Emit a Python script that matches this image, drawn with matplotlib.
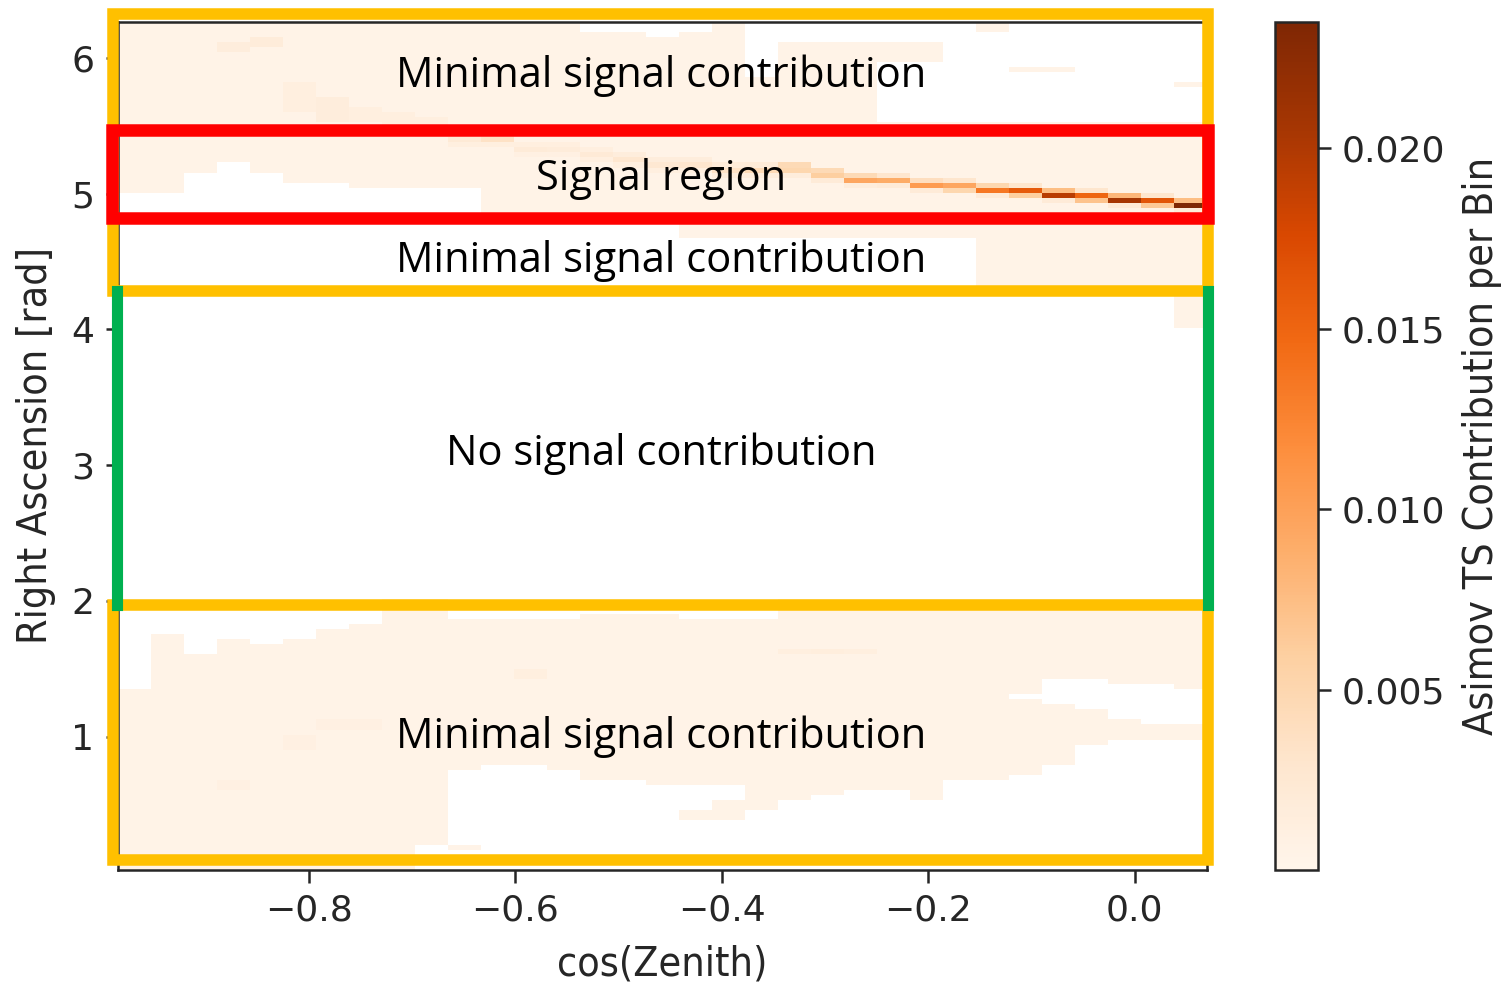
import numpy as np
import matplotlib
matplotlib.use("Agg")
import matplotlib.pyplot as plt
from matplotlib.patches import Rectangle
from matplotlib.lines import Line2D
from matplotlib.ticker import FormatStrFormatter

# binning of the sky map: 33 cos(zenith) columns, 169 right-ascension rows
N_COS = 33
N_RA = 169
cos_edges = np.linspace(-0.985, 0.07, N_COS + 1)
ra_edges = np.linspace(0.0185, 6.265, N_RA + 1)

FAINT = 0.0004

# lower band (RA 0..2): top / bottom of the populated region per column
low_top = [1.34, 1.76, 1.62, 1.72, 1.68, 1.72, 1.79, 1.83, 2.00, 2.00, 1.87,
           1.87, 1.87, 1.87, 1.90, 1.90, 1.90, 1.86, 1.86, 1.86, 2.00, 2.00,
           2.00, 2.00, 2.00, 2.00, 2.00, 2.00, 2.00, 2.00, 2.00, 2.00, 2.00]
low_bottom = [0.0, 0.0, 0.0, 0.0, 0.0, 0.0, 0.0, 0.0, 0.0, 0.20, 0.74,
              0.78, 0.78, 0.74, 0.68, 0.68, 0.64, 0.64, 0.64, 0.55, 0.55, 0.57,
              0.60, 0.60, 0.55, 0.68, 0.68, 0.71, 0.79, 0.96, 0.99, 0.99, 0.99]
# empty holes inside the lower band
gap_cols = [27, 28, 29, 30, 31, 32]
gap_lo = [1.27, 1.24, 1.195, 1.13, 1.10, 1.10]
gap_hi = [1.33, 1.42, 1.42, 1.40, 1.38, 1.36]

# upper zone above RA 5.5 (None = empty column)
top_lo = [5.50] * 19 + [5.50, 5.53, 5.53, 5.53, 5.98, 5.98, None, 6.20, 5.88,
                        5.88, None, None, None, 5.77]
top_hi = [6.27] * 14 + [6.20, 6.20, 6.15, 6.20, 6.25, 5.85, 6.12, 6.12, 6.12,
                        6.12, 6.12, None, 6.25, 5.94, 5.94, None, None, None, 5.82]

# region from RA 5.5 downwards (signal band and below)
mid_lo = [5.01, 5.01, 5.16, 5.22, 5.16, 5.08, 5.08, 5.03, 5.03, 5.03, 5.03,
          4.83, 4.83, 4.83, 4.83, 4.83, 4.83, 4.66, 4.66, 4.66, 4.66, 4.66,
          4.66, 4.66, 4.66, 4.66, 4.29, 4.29, 4.29, 4.29, 4.29, 4.29, 4.00]
MID_HI = 5.53

# slightly stronger patches: column, ra low, ra high, value
patch_col = [3, 4, 5, 6, 7, 8, 9, 5, 6, 7, 3, 12, 20, 21, 22, 17, 18, 19, 10]
patch_lo = [6.05, 6.09, 5.59, 5.53, 5.53, 5.45, 5.42, 0.90, 1.05, 1.05, 0.60,
            1.44, 1.59, 1.59, 1.59, 0.40, 0.40, 0.45, 0.17]
patch_hi = [6.12, 6.16, 5.81, 5.71, 5.65, 5.60, 5.55, 1.02, 1.14, 1.14, 0.68,
            1.51, 1.65, 1.65, 1.65, 0.45, 0.53, 0.55, 0.22]
patch_val = [0.0015, 0.0018, 0.0012, 0.0015, 0.0012, 0.0012, 0.0012, 0.0010,
             0.0010, 0.0010, 0.0010, 0.0012, 0.0012, 0.0014, 0.0012, 0.0004,
             0.0004, 0.0004, 0.0004]

# source track: column, RA of peak bin, peak value, bin above, bin below
sig_cols = list(range(10, 33))
sig_ra = [5.40, 5.38, 5.33, 5.31, 5.28, 5.24, 5.22, 5.20, 5.18, 5.16, 5.16,
          5.13, 5.095, 5.095, 5.07, 5.055, 5.03, 5.03, 4.995, 4.995, 4.96,
          4.955, 4.92]
sig_val = [0.0022, 0.0035, 0.0020, 0.0018, 0.0022, 0.0028, 0.0025, 0.0030,
           0.0035, 0.0045, 0.0050, 0.0060, 0.0095, 0.0090, 0.0105, 0.0095,
           0.0135, 0.0160, 0.0195, 0.0150, 0.0205, 0.0165, 0.0235]
sig_up = [0.0012, 0.0015, 0.0012, 0.0012, 0.0012, 0.0015, 0.0015, 0.0015,
          0.0018, 0.0020, 0.0045, 0.0045, 0.0045, 0.0030, 0.0040, 0.0030,
          0.0050, 0.0030, 0.0075, 0.0030, 0.0080, 0.0030, 0.0075]
sig_dn = [0.0012, 0.0012, 0.0010, 0.0010, 0.0012, 0.0012, 0.0012, 0.0012,
          0.0015, 0.0015, 0.0015, 0.0020, 0.0015, 0.0020, 0.0020, 0.0050,
          0.0020, 0.0060, 0.0020, 0.0070, 0.0020, 0.0065, 0.0020]

ra_mid = 0.5 * (ra_edges[:-1] + ra_edges[1:])
ts = np.zeros((N_RA, N_COS))


def fill(col, lo, hi, val):
    rows = (ra_mid >= lo) & (ra_mid < hi)
    ts[rows, col] = np.maximum(ts[rows, col], val)


for c in range(N_COS):
    fill(c, low_bottom[c], low_top[c], FAINT)
    if top_lo[c] is not None:
        fill(c, top_lo[c], top_hi[c], FAINT)
    fill(c, mid_lo[c], MID_HI, FAINT)
for c, lo, hi in zip(gap_cols, gap_lo, gap_hi):
    ts[(ra_mid >= lo) & (ra_mid < hi), c] = 0
for c, lo, hi, v in zip(patch_col, patch_lo, patch_hi, patch_val):
    fill(c, lo, hi, v)
for c, ra, v, up, dn in zip(sig_cols, sig_ra, sig_val, sig_up, sig_dn):
    r = np.searchsorted(ra_edges, ra) - 1
    ts[r, c] = v
    ts[r + 1, c] = max(ts[r + 1, c], up)
    ts[r - 1, c] = max(ts[r - 1, c], dn)

ts = np.ma.masked_equal(ts, 0)

plt.rcParams['font.family'] = 'DejaVu Sans'
plt.rcParams['text.color'] = '.15'
plt.rcParams['axes.edgecolor'] = '.15'
plt.rcParams['axes.labelcolor'] = '.15'
plt.rcParams['xtick.color'] = '.15'
plt.rcParams['ytick.color'] = '.15'

W, H = 1501, 983
fig = plt.figure(figsize=(W / 100, H / 100), dpi=100)
ax = fig.add_axes([118 / W, 1 - 870 / H, (1207 - 118) / W, (870 - 22) / H])
cax = fig.add_axes([1275 / W, 1 - 870 / H, 43 / W, (870 - 22) / H])

mesh = ax.pcolormesh(cos_edges, ra_edges, ts, cmap='Oranges', vmin=0, vmax=0.0235)
ax.set_xlim(cos_edges[0], cos_edges[-1])
ax.set_ylim(ra_edges[0], ra_edges[-1])
ax.set_xticks([-0.8, -0.6, -0.4, -0.2, 0.0])
ax.set_yticks([1, 2, 3, 4, 5, 6])
ax.tick_params(labelsize=26, length=9, width=1.8, pad=8)
for s in ax.spines.values():
    s.set_linewidth(1.8)
ax.set_xlabel('cos(Zenith)', fontsize=29.5, fontstretch='condensed', labelpad=12)
ax.set_ylabel('Right Ascension [rad]', fontsize=29.5, fontstretch='condensed', labelpad=11)

cb = fig.colorbar(mesh, cax=cax, ticks=[0.005, 0.010, 0.015, 0.020])
cb.ax.yaxis.set_major_formatter(FormatStrFormatter('%.3f'))
cb.ax.tick_params(labelsize=26, length=9, width=1.8, pad=8)
cb.outline.set_linewidth(1.8)
cb.set_label('Asimov TS Contribution per Bin', fontsize=29.5,
             fontstretch='condensed', labelpad=12)


# annotation frames, in figure pixels
def px(x, y):
    return x / W, 1 - y / H


def frame(x0, y0, x1, y1, color, lw):
    fx0, fy1 = px(x0, y0)
    fx1, fy0 = px(x1, y1)
    fig.add_artist(Rectangle((fx0, fy0), fx1 - fx0, fy1 - fy0, fill=False,
                             edgecolor=color, linewidth=lw, joinstyle='miter',
                             transform=fig.transFigure))


for gx in (116.5, 1207.5):
    (a, b), (_, d) = px(gx, 291), px(gx, 605)
    fig.add_artist(Line2D([a, a], [b, d], color='#00B050', linewidth=8,
                          transform=fig.transFigure))
frame(112.5, 14, 1207.5, 291, '#FFC000', 8.3)
frame(112.5, 605, 1207.5, 860, '#FFC000', 8.3)
frame(112, 129.5, 1208, 218, '#FF0000', 9)

notes = [('Minimal signal contribution', 87),
         ('Signal region', 190),
         ('Minimal signal contribution', 272),
         ('No signal contribution', 465),
         ('Minimal signal contribution', 748)]
for txt, base in notes:
    tx, ty = px(661.5, base)
    fig.text(tx, ty, txt, ha='center', va='baseline', fontsize=30,
             family='Open Sans', color='black')

fig.savefig('out.png', dpi=100)
